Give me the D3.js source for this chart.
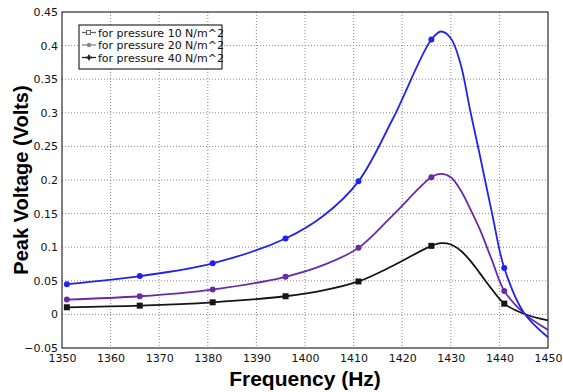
<!DOCTYPE html>
<html>
<head>
<meta charset="utf-8">
<script src="https://cdn.jsdelivr.net/npm/d3@7"></script>
<style>
  body { margin: 0; background: #fff; }
  .tick text { font-family: "DejaVu Sans", sans-serif; }
</style>
</head>
<body>
<div class="chart"></div>
<script>
// frequencies (Hz)
var freqs = [1351, 1366, 1381, 1396, 1404, 1411, 1418, 1426, 1428, 1430, 1432, 1434, 1436, 1438.5, 1441, 1445, 1450];
// frequencies where the plot shows a marker
var markerFreqs = [1351, 1366, 1381, 1396, 1411, 1426, 1441];

var volts10 = [0.0106, 0.013, 0.018, 0.027, 0.036, 0.049, 0.072, 0.102, 0.106, 0.104, 0.095, 0.080, 0.061, 0.037, 0.016, 0.001, -0.009];
var volts20 = [0.022, 0.027, 0.037, 0.056, 0.074, 0.099, 0.147, 0.204, 0.209, 0.204, 0.185, 0.157, 0.126, 0.080, 0.035, 0.002, -0.023];
var volts40 = [0.045, 0.057, 0.076, 0.113, 0.148, 0.198, 0.290, 0.409, 0.421, 0.411, 0.373, 0.303, 0.236, 0.150, 0.069, 0.003, -0.034];

var seriesNames = ["for pressure 10 N/m^2", "for pressure 20 N/m^2", "for pressure 40 N/m^2"];
var xTicks = [1350, 1360, 1370, 1380, 1390, 1400, 1410, 1420, 1430, 1440, 1450];
var yTicks = [-0.05, 0, 0.05, 0.1, 0.15, 0.2, 0.25, 0.3, 0.35, 0.4, 0.45];

var margin = { top: 12, right: 15, bottom: 44, left: 62 },
    width = 563 - margin.left - margin.right,
    height = 392 - margin.top - margin.bottom;

var svg = d3.select(".chart")
    .append("svg")
    .attr("width", 563)
    .attr("height", 392)
    .append("g")
    .attr("transform", "translate(" + margin.left + "," + margin.top + ")");

var x = d3.scaleLinear().domain([1350, 1450]).range([0, width]);
var y = d3.scaleLinear().domain([-0.05, 0.45]).range([height, 0]);

// grid
svg.append("g")
    .selectAll("line")
    .data(xTicks.slice(1, -1))
    .enter().append("line")
    .attr("x1", function (d) { return x(d); })
    .attr("x2", function (d) { return x(d); })
    .attr("y1", 0).attr("y2", height)
    .attr("stroke", "#888").attr("stroke-dasharray", "1,2");
svg.append("g")
    .selectAll("line")
    .data(yTicks.slice(1, -1))
    .enter().append("line")
    .attr("y1", function (d) { return y(d); })
    .attr("y2", function (d) { return y(d); })
    .attr("x1", 0).attr("x2", width)
    .attr("stroke", "#888").attr("stroke-dasharray", "1,2");

// axes
svg.append("g")
    .attr("transform", "translate(0," + height + ")")
    .call(d3.axisBottom(x).tickValues(xTicks).tickSize(0).tickPadding(6).tickFormat(d3.format("d")))
    .call(function (g) { g.select(".domain").remove(); })
    .selectAll("text").style("font-size", "11px").attr("fill", "#111");
svg.append("g")
    .call(d3.axisLeft(y).tickValues(yTicks).tickSize(0).tickPadding(4).tickFormat(d3.format("~g")))
    .call(function (g) { g.select(".domain").remove(); })
    .selectAll("text").style("font-size", "11px").attr("fill", "#111");

// frame
svg.append("rect")
    .attr("width", width).attr("height", height)
    .attr("fill", "none").attr("stroke", "#000").attr("stroke-width", 1);

var series = [
    { name: seriesNames[0], values: volts10, color: "#151515", marker: "square", legendColor: "#666" },
    { name: seriesNames[1], values: volts20, color: "#6a2aa8", marker: "circle", legendColor: "#888" },
    { name: seriesNames[2], values: volts40, color: "#2222ee", marker: "circle", legendColor: "#222" }
];

var line = d3.line()
    .x(function (d, i) { return x(freqs[i]); })
    .y(function (d) { return y(d); })
    .curve(d3.curveCatmullRom.alpha(0.5));

series.forEach(function (s) {
    svg.append("path")
        .attr("d", line(s.values))
        .attr("fill", "none")
        .attr("stroke", s.color)
        .attr("stroke-width", 1.8);

    var pts = freqs.map(function (f, i) { return { f: f, v: s.values[i] }; })
        .filter(function (p) { return markerFreqs.indexOf(p.f) >= 0; });

    if (s.marker === "square") {
        svg.selectAll(null).data(pts).enter().append("rect")
            .attr("x", function (d) { return x(d.f) - 3; })
            .attr("y", function (d) { return y(d.v) - 3; })
            .attr("width", 6).attr("height", 6)
            .attr("fill", s.color);
    } else {
        svg.selectAll(null).data(pts).enter().append("circle")
            .attr("cx", function (d) { return x(d.f); })
            .attr("cy", function (d) { return y(d.v); })
            .attr("r", 3)
            .attr("fill", s.color);
    }
});

// legend
var legend = svg.append("g").attr("transform", "translate(17,13)");
legend.append("rect")
    .attr("width", 143).attr("height", 44)
    .attr("fill", "#fff").attr("stroke", "#000").attr("stroke-width", 1);

series.forEach(function (s, i) {
    var ly = 7.5 + i * 12.5;
    legend.append("line")
        .attr("x1", 3).attr("x2", 17)
        .attr("y1", ly).attr("y2", ly)
        .attr("stroke", s.legendColor).attr("stroke-width", 1.3);
    if (i === 0) {
        legend.append("rect").attr("x", 7.5).attr("y", ly - 2).attr("width", 4).attr("height", 4)
            .attr("fill", "#fff").attr("stroke", s.legendColor);
    } else if (i === 1) {
        legend.append("circle").attr("cx", 10).attr("cy", ly).attr("r", 2.2).attr("fill", s.legendColor);
    } else {
        legend.append("path").attr("d", d3.symbol(d3.symbolCross, 16)())
            .attr("transform", "translate(10," + ly + ")").attr("fill", s.legendColor);
    }
    legend.append("text")
        .attr("x", 19).attr("y", ly + 4)
        .style("font-family", "'DejaVu Sans', sans-serif")
        .style("font-size", "11px")
        .attr("fill", "#111")
        .text(s.name);
});

// axis labels
svg.append("text")
    .attr("x", 305 - margin.left)
    .attr("y", 386 - margin.top)
    .attr("text-anchor", "middle")
    .style("font-family", "'Liberation Sans', Arial, sans-serif")
    .style("font-weight", "bold")
    .style("font-size", "21px")
    .text("Frequency (Hz)");

svg.append("text")
    .attr("transform", "rotate(-90)")
    .attr("x", -(180 - margin.top))
    .attr("y", 28 - margin.left)
    .attr("text-anchor", "middle")
    .style("font-family", "'Liberation Sans', Arial, sans-serif")
    .style("font-weight", "bold")
    .style("font-size", "20px")
    .text("Peak Voltage (Volts)");
</script>
</body>
</html>
